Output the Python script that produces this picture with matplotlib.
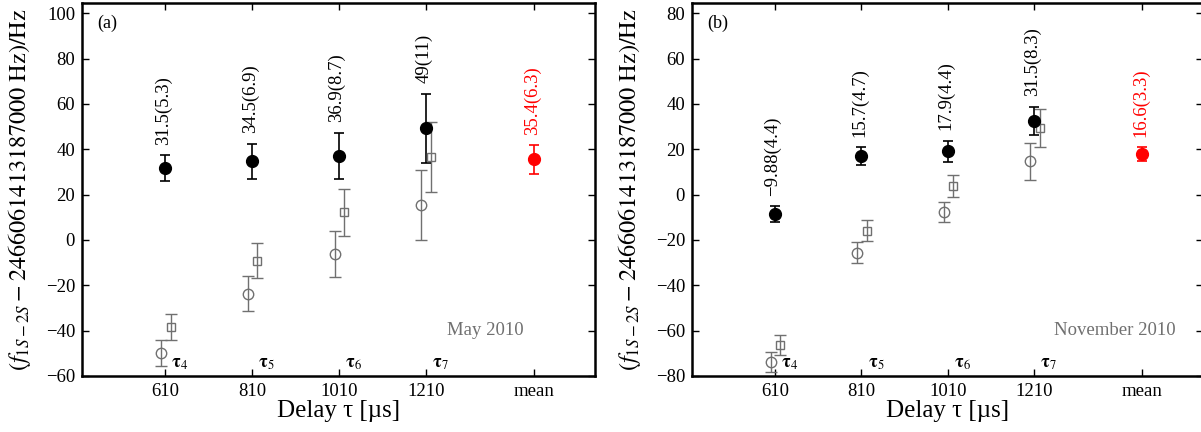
import numpy as np
import matplotlib
matplotlib.use("Agg")
import matplotlib.pyplot as plt
import matplotlib.transforms as mtransforms

plt.rcParams['font.family'] = ['Liberation Serif', 'DejaVu Serif']
plt.rcParams['mathtext.fontset'] = 'stix'

# delay settings and category positions
delays = [610, 810, 1010, 1210]
tick_labels = ['610', '810', '1010', '1210', 'mean']
mean_pos = 1460
tau_labels = [r'$\mathbf{\tau}_4$', r'$\mathbf{\tau}_5$', r'$\mathbf{\tau}_6$', r'$\mathbf{\tau}_7$']

# (a) May 2010
a_val = [31.6, 34.6, 37.1, 49.3]
a_err = [5.7, 7.9, 10.2, 15.2]
a_text = ['31.5(5.3)', '34.5(6.9)', '36.9(8.7)', '49(11)']
a_mean, a_mean_err, a_mean_text = 35.6, 6.3, '35.4(6.3)'
a_circ = [-49.8, -23.7, -6.1, 15.3]
a_circ_err = [5.6, 7.8, 10.1, 15.4]
a_sq = [-38.5, -9.1, 12.2, 36.5]
a_sq_err = [5.7, 7.9, 10.4, 15.3]

# (b) November 2010
b_val = [-8.6, 16.9, 19.1, 32.5]
b_err = [3.6, 4.0, 4.7, 6.3]
b_text = ['\u22129.88(4.4)', '15.7(4.7)', '17.9(4.4)', '31.5(8.3)']
b_mean, b_mean_err, b_mean_text = 17.9, 3.1, '16.6(3.3)'
b_circ = [-74.0, -25.7, -7.6, 14.7]
b_circ_err = [4.4, 4.6, 4.5, 8.1]
b_sq = [-66.4, -15.9, 3.8, 29.4]
b_sq_err = [4.4, 4.7, 4.7, 8.3]

GREY = '#707070'


def draw_panel(ax, val, err, text, mval, merr, mtext, circ, circ_err, sq, sq_err,
               ylim, yticks, tag, season, season_xy):
    x = np.array(delays, dtype=float)
    ax.errorbar(x - 10, circ, yerr=circ_err, fmt='o', mfc='none', mec=GREY, ms=7.5,
                ecolor=GREY, elinewidth=1.0, capsize=4, capthick=1.0, mew=1.0)
    ax.errorbar(x + 12, sq, yerr=sq_err, fmt='s', mfc='none', mec=GREY, ms=5.5,
                ecolor=GREY, elinewidth=1.0, capsize=4, capthick=1.0, mew=1.0)
    ax.errorbar(x, val, yerr=err, fmt='o', color='black', ms=8.5,
                elinewidth=1.2, capsize=3.6, capthick=1.2)
    ax.errorbar([mean_pos], [mval], yerr=[merr], fmt='o', color='red', ms=8.5,
                elinewidth=1.2, capsize=3.6, capthick=1.2)
    for xi, v, e, t in zip(x, val, err, text):
        ax.text(xi - 5, v + e + 4.5, t, rotation=90, ha='center', va='bottom', fontsize=13.5)
    ax.text(mean_pos - 5, mval + merr + 4.5, mtext, rotation=90, ha='center', va='bottom',
            fontsize=13.5, color='red')

    trans = mtransforms.blended_transform_factory(ax.transData, ax.transAxes)
    for xi, t in zip(x, tau_labels):
        ax.text(xi + 14, 0.012, t, transform=trans, ha='left', va='bottom', fontsize=13)

    ax.text(0.03, 0.945, tag, transform=ax.transAxes, ha='left', va='center', fontsize=13)
    ax.text(season_xy[0], season_xy[1], season, ha='right', va='center', fontsize=13.5, color=GREY)

    ax.set_xlim(418, 1600)
    ax.set_ylim(*ylim)
    ax.set_xticks(list(delays) + [mean_pos])
    ax.set_xticklabels(tick_labels)
    ax.set_yticks(yticks)
    ax.set_yticklabels([str(t).replace('-', '\u2212') for t in yticks])
    ax.tick_params(direction='in', top=True, right=True, length=5, width=1.0,
                   labelsize=13.5, pad=5)
    for s in ax.spines.values():
        s.set_linewidth(1.8)
    ax.set_xlabel('Delay \u03c4 [\u00b5s]', fontsize=18, labelpad=0)
    ax.set_ylabel(r'$(f_{1S-2S}-2466061413187000\ \mathrm{Hz})/\mathrm{Hz}$', fontsize=17.5)
    ax.yaxis.set_label_coords(-0.095, 0.5)


fig = plt.figure(figsize=(12.01, 4.32), dpi=100)
ax1 = fig.add_axes([82 / 1201, 56 / 432, 513 / 1201, 373 / 432])
ax2 = fig.add_axes([692 / 1201, 56 / 432, 511 / 1201, 373 / 432])

draw_panel(ax1, a_val, a_err, a_text, a_mean, a_mean_err, a_mean_text,
           a_circ, a_circ_err, a_sq, a_sq_err,
           (-60, 104.5), list(range(-60, 101, 20)), '(a)', 'May 2010', (1435, -40))
draw_panel(ax2, b_val, b_err, b_text, b_mean, b_mean_err, b_mean_text,
           b_circ, b_circ_err, b_sq, b_sq_err,
           (-80, 84.5), list(range(-80, 81, 20)), '(b)', 'November 2010', (1536, -60))

fig.savefig('out.png', dpi=100)
